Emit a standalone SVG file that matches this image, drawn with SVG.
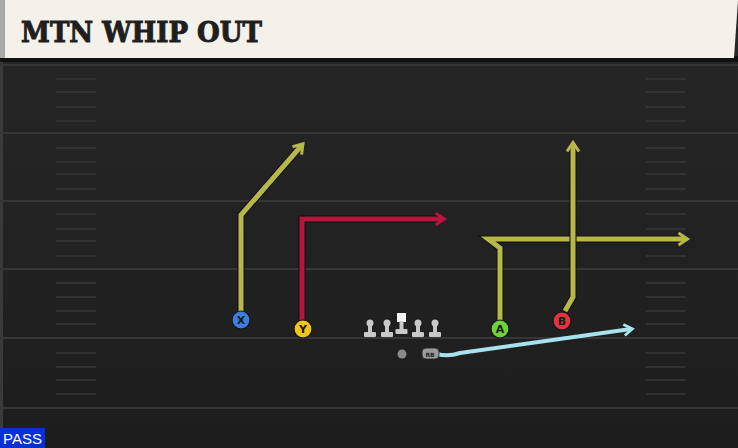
<svg xmlns="http://www.w3.org/2000/svg" width="738" height="448" viewBox="0 0 738 448">
<defs>
<linearGradient id="fieldg" x1="0" y1="0" x2="0" y2="1">
<stop offset="0" stop-color="#272727"/>
<stop offset="1" stop-color="#1d1d1d"/>
</linearGradient>
<marker id="arrY" viewBox="0 0 10 10" refX="6" refY="5" markerWidth="3" markerHeight="3" orient="auto" markerUnits="strokeWidth">
<path d="M1,1 L7,5 L1,9" fill="none" stroke="#b7b84a" stroke-width="2" stroke-linejoin="miter"/>
</marker>
<marker id="arrR" viewBox="0 0 10 10" refX="6" refY="5" markerWidth="3" markerHeight="3" orient="auto" markerUnits="strokeWidth">
<path d="M1,1 L7,5 L1,9" fill="none" stroke="#b3173a" stroke-width="2"/>
</marker>
<marker id="arrB" viewBox="0 0 10 10" refX="6" refY="5" markerWidth="3.5" markerHeight="3.5" orient="auto" markerUnits="strokeWidth">
<path d="M1,1 L7,5 L1,9" fill="none" stroke="#a8e2ee" stroke-width="2"/>
</marker>
<style>
.major{stroke:#363636;stroke-width:2}
.hash{stroke:#383838;stroke-width:1.5}
.outline{fill:none;stroke:#0e0e12;stroke-width:7;stroke-linejoin:miter;stroke-linecap:butt}
.ry{fill:none;stroke:#b7b84a;stroke-width:5;stroke-linejoin:miter}
.rr{fill:none;stroke:#b3173a;stroke-width:5;stroke-linejoin:miter}
.rb{fill:none;stroke:#a8e2ee;stroke-width:4;stroke-linejoin:round}
.pc{stroke:#151515;stroke-width:1.2}
.pl{font-family:"DejaVu Sans",sans-serif;font-weight:bold;font-size:11px;fill:#1a1a1a;text-anchor:middle}
.ol{fill:#c9c9c9}
</style>
</defs>
<rect width="738" height="448" fill="url(#fieldg)"/>
<rect x="0" y="60" width="3" height="388" fill="#3a3a3a"/>
<g id="field">
<line class="major" x1="0" y1="65" x2="738" y2="65"/>
<line class="major" x1="0" y1="133" x2="738" y2="133"/>
<line class="major" x1="0" y1="201" x2="738" y2="201"/>
<line class="major" x1="0" y1="269" x2="738" y2="269"/>
<line class="major" x1="0" y1="338" x2="738" y2="338"/>
<line class="major" x1="0" y1="408" x2="738" y2="408"/>
<g class="hash">
<line x1="56" y1="79" x2="96" y2="79"/><line x1="56" y1="92" x2="96" y2="92"/><line x1="56" y1="107" x2="96" y2="107"/><line x1="56" y1="121" x2="96" y2="121"/>
<line x1="56" y1="148" x2="96" y2="148"/><line x1="56" y1="162" x2="96" y2="162"/><line x1="56" y1="174" x2="96" y2="174"/><line x1="56" y1="189" x2="96" y2="189"/>
<line x1="56" y1="214" x2="96" y2="214"/><line x1="56" y1="229" x2="96" y2="229"/><line x1="56" y1="241" x2="96" y2="241"/><line x1="56" y1="256" x2="96" y2="256"/>
<line x1="56" y1="283" x2="96" y2="283"/><line x1="56" y1="297" x2="96" y2="297"/><line x1="56" y1="311" x2="96" y2="311"/><line x1="56" y1="324" x2="96" y2="324"/>
<line x1="56" y1="353" x2="96" y2="353"/><line x1="56" y1="367" x2="96" y2="367"/><line x1="56" y1="380" x2="96" y2="380"/><line x1="56" y1="394" x2="96" y2="394"/>
<line x1="646" y1="79" x2="686" y2="79"/><line x1="646" y1="92" x2="686" y2="92"/><line x1="646" y1="107" x2="686" y2="107"/><line x1="646" y1="121" x2="686" y2="121"/>
<line x1="646" y1="148" x2="686" y2="148"/><line x1="646" y1="162" x2="686" y2="162"/><line x1="646" y1="174" x2="686" y2="174"/><line x1="646" y1="189" x2="686" y2="189"/>
<line x1="646" y1="214" x2="686" y2="214"/><line x1="646" y1="229" x2="686" y2="229"/><line x1="646" y1="241" x2="686" y2="241"/><line x1="646" y1="256" x2="686" y2="256"/>
<line x1="646" y1="283" x2="686" y2="283"/><line x1="646" y1="297" x2="686" y2="297"/><line x1="646" y1="311" x2="686" y2="311"/><line x1="646" y1="324" x2="686" y2="324"/>
<line x1="646" y1="353" x2="686" y2="353"/><line x1="646" y1="367" x2="686" y2="367"/><line x1="646" y1="380" x2="686" y2="380"/><line x1="646" y1="394" x2="686" y2="394"/>
</g>
</g>
<g id="header">
<rect x="0" y="56" width="738" height="6" fill="#111"/>
<path d="M0,0 H738 L734,58 H0 Z" fill="#f4f1ea"/>
<rect x="0" y="0" width="5" height="58" fill="#a9a9a6"/>
<text x="21" y="42" font-family="'DejaVu Serif','Liberation Serif',serif" font-weight="bold" font-size="28" fill="#1f1f1f" stroke="#1f1f1f" stroke-width="1" textLength="241" lengthAdjust="spacingAndGlyphs">MTN WHIP OUT</text>
</g>
<g id="connectors">
<path class="outline" d="M241,318 V215 L302,145"/>
<path class="ry" d="M241,318 V215 L302,145" marker-end="url(#arrY)"/>
<path class="outline" d="M302,327 V219 H443"/>
<path class="rr" d="M302,327 V219 H443" marker-end="url(#arrR)"/>
<path class="outline" d="M500,327 V248 L488,239 H686"/>
<path class="ry" d="M500,327 V248 L488,239 H686" marker-end="url(#arrY)"/>
<path class="outline" d="M565,311 L573,297 V144"/>
<path class="ry" d="M565,311 L573,297 V144" marker-end="url(#arrY)"/>
<path class="rb" d="M437,354 Q448,357 460,353 L631,329" marker-end="url(#arrB)"/>
</g>
<g id="X"><circle class="pc" cx="241" cy="320" r="9" fill="#3d7de0"/><text class="pl" x="241" y="324">X</text></g>
<g id="Y"><circle class="pc" cx="303" cy="329" r="9" fill="#f0c419"/><text class="pl" x="303" y="333">Y</text></g>
<g id="A"><circle class="pc" cx="500" cy="329" r="9" fill="#6fd13a"/><text class="pl" x="500" y="333">A</text></g>
<g id="B"><circle class="pc" cx="562" cy="321" r="9" fill="#e0353e"/><text class="pl" x="562" y="325">B</text></g>
<g id="QB"><circle cx="402" cy="354" r="4.5" fill="#8a8a8a"/></g>
<g id="RB"><rect x="422" y="348" width="17" height="11" rx="4" fill="#9a9a9a" stroke="#222" stroke-width="0.8"/><text x="430" y="356.5" font-family="'DejaVu Sans',sans-serif" font-size="6" font-weight="bold" fill="#222" text-anchor="middle">RB</text></g>
<g id="LT"><circle class="ol" cx="370" cy="323" r="3.5"/><rect class="ol" x="368" y="323" width="4" height="10"/><rect class="ol" x="364" y="332" width="12" height="5" rx="1"/></g>
<g id="LG"><circle class="ol" cx="387" cy="323" r="3.5"/><rect class="ol" x="385" y="323" width="4" height="10"/><rect class="ol" x="381" y="332" width="12" height="5" rx="1"/></g>
<g id="C"><rect x="397" y="313" width="9" height="9" fill="#f4f4f4"/><rect class="ol" x="399.5" y="321" width="4" height="9"/><rect class="ol" x="395.5" y="329" width="12" height="5" rx="1"/></g>
<g id="RG"><circle class="ol" cx="418" cy="323" r="3.5"/><rect class="ol" x="416" y="323" width="4" height="10"/><rect class="ol" x="412" y="332" width="12" height="5" rx="1"/></g>
<g id="RT"><circle class="ol" cx="435" cy="323" r="3.5"/><rect class="ol" x="433" y="323" width="4" height="10"/><rect class="ol" x="429" y="332" width="12" height="5" rx="1"/></g>
<g id="pass"><rect x="0" y="428" width="45" height="20" fill="#0b2fd6"/><text x="22.5" y="444" font-family="'Liberation Sans',sans-serif" font-size="15" fill="#ffffff" text-anchor="middle">PASS</text></g>
</svg>
